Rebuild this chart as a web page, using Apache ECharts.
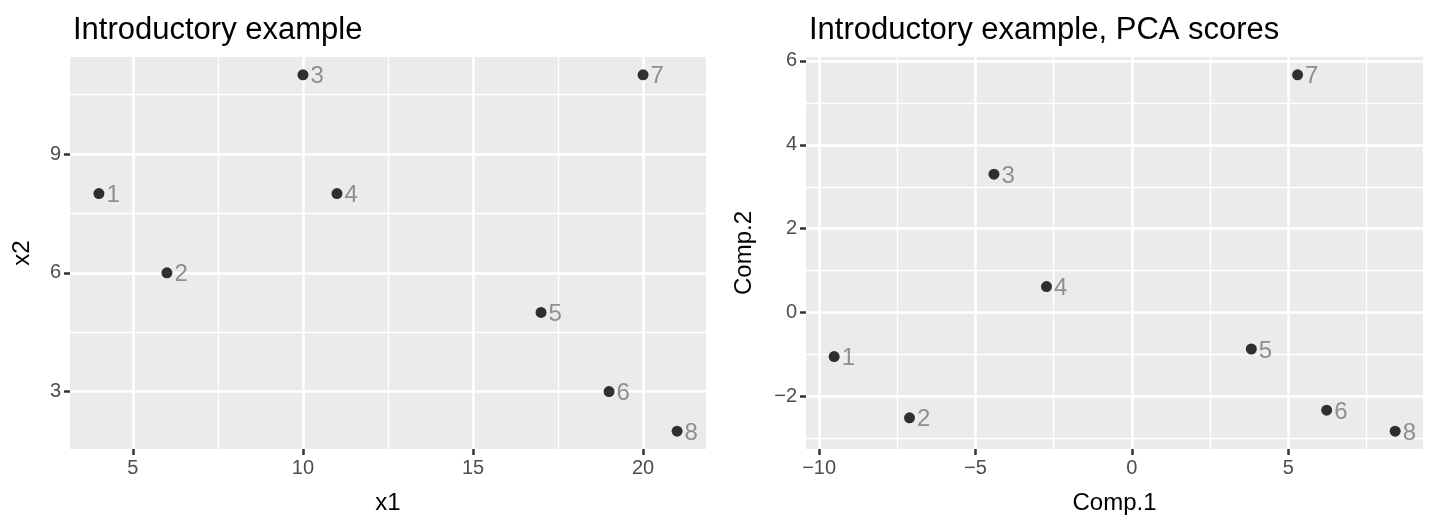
<!DOCTYPE html>
<html>
<head>
<meta charset="utf-8">
<script src="https://cdn.jsdelivr.net/npm/echarts@6/dist/echarts.min.js"></script>
<style>
html,body{margin:0;padding:0;background:#fff;}
#chart{width:1429px;height:520px;}
</style>
</head>
<body>
<div id="chart"></div>
<script>
// ---- data ----
var ids = ['1','2','3','4','5','6','7','8'];
var x1 = [4, 6, 10, 11, 17, 19, 20, 21];
var x2 = [8, 6, 11, 8, 5, 3, 11, 2];
var comp1 = [-9.52, -7.11, -4.41, -2.73, 3.82, 6.23, 5.30, 8.42];
var comp2 = [-1.05, -2.51, 3.30, 0.62, -0.87, -2.33, 5.67, -2.83];

// ---- axis limits & ticks ----
var leftXRange = [3.15, 21.85];
var leftYRange = [1.55, 11.45];
var rightXRange = [-10.42, 9.31];
var rightYRange = [-3.255, 6.095];

var leftXTicks = [5, 10, 15, 20];
var leftXMinor = [7.5, 12.5, 17.5];
var leftYTicks = [3, 6, 9];
var leftYMinor = [4.5, 7.5, 10.5];
var rightXTicks = [-10, -5, 0, 5];
var rightXMinor = [-7.5, -2.5, 2.5, 7.5];
var rightYTicks = [-2, 0, 2, 4, 6];
var rightYMinor = [-3, -1, 1, 3, 5];

var FONT = 'Liberation Sans, Arial, Helvetica, sans-serif';

function pts(xs, ys) {
  return xs.map(function (v, i) { return { value: [v, ys[i]], name: ids[i] }; });
}
function gridLines(xMaj, xMin, yMaj, yMin) {
  var d = [];
  xMin.forEach(function (v) { d.push({ xAxis: v, lineStyle: { color: '#fff', width: 1.3, type: 'solid' } }); });
  yMin.forEach(function (v) { d.push({ yAxis: v, lineStyle: { color: '#fff', width: 1.3, type: 'solid' } }); });
  xMaj.forEach(function (v) { d.push({ xAxis: v, lineStyle: { color: '#fff', width: 2.6, type: 'solid' } }); });
  yMaj.forEach(function (v) { d.push({ yAxis: v, lineStyle: { color: '#fff', width: 2.6, type: 'solid' } }); });
  return d;
}
function fmt(v) { return String(v).replace('-', '\u2212'); }

function xAxis(idx, range, ticks, name) {
  return {
    type: 'value', gridIndex: idx, min: range[0], max: range[1],
    name: name, nameLocation: 'middle', nameGap: 42,
    nameTextStyle: { color: '#000', fontSize: 24, fontFamily: FONT },
    axisLine: { show: false, onZero: false },
    axisTick: { show: true, length: 6, customValues: ticks, lineStyle: { color: '#333', width: 2.5 } },
    axisLabel: { customValues: ticks, color: '#4D4D4D', fontSize: 20, fontFamily: FONT, margin: 9, formatter: fmt },
    splitLine: { show: false }
  };
}
function yAxis(idx, range, ticks, name, gap) {
  return {
    type: 'value', gridIndex: idx, min: range[0], max: range[1],
    name: name, nameLocation: 'middle', nameGap: gap, nameRotate: 90,
    nameTextStyle: { color: '#000', fontSize: 24, fontFamily: FONT },
    axisLine: { show: false, onZero: false },
    axisTick: { show: true, length: 6, customValues: ticks, lineStyle: { color: '#333', width: 2.5 } },
    axisLabel: { customValues: ticks, color: '#4D4D4D', fontSize: 20, fontFamily: FONT, margin: 9, formatter: fmt },
    splitLine: { show: false }
  };
}
function scatter(idx, data) {
  return {
    type: 'scatter', xAxisIndex: idx, yAxisIndex: idx, data: data, z: 10,
    symbol: 'circle', symbolSize: 11, itemStyle: { color: '#000' },
    label: { show: true, position: 'right', distance: 2, formatter: '{b}', color: '#777777',
             fontSize: 24, fontFamily: FONT, offset: [0, 2] },
    emphasis: { disabled: true }, silent: true
  };
}
function helper(idx, lines) {
  return {
    type: 'scatter', xAxisIndex: idx, yAxisIndex: idx, data: [], z: 1, silent: true,
    markLine: { silent: true, z: 1, symbol: ['none', 'none'], label: { show: false }, animation: false, data: lines }
  };
}

var chart = echarts.init(document.getElementById('chart'), null, { renderer: 'canvas' });
chart.setOption({
  animation: false,
  backgroundColor: '#fff',
  title: [
    { text: 'Introductory example', left: 68, top: 10, textStyle: { fontSize: 31, fontWeight: 'normal', color: '#000', fontFamily: FONT } },
    { text: 'Introductory example, PCA scores', left: 804, top: 10, textStyle: { fontSize: 31, fontWeight: 'normal', color: '#000', fontFamily: FONT } }
  ],
  grid: [
    { left: 70, top: 57, width: 636, height: 398, show: true, backgroundColor: '#EBEBEB', borderWidth: 0 },
    { left: 806, top: 57, width: 617, height: 398, show: true, backgroundColor: '#EBEBEB', borderWidth: 0 }
  ],
  xAxis: [ xAxis(0, leftXRange, leftXTicks, 'x1'), xAxis(1, rightXRange, rightXTicks, 'Comp.1') ],
  yAxis: [ yAxis(0, leftYRange, leftYTicks, 'x2', 36), yAxis(1, rightYRange, rightYTicks, 'Comp.2', 50) ],
  series: [
    helper(0, gridLines(leftXTicks, leftXMinor, leftYTicks, leftYMinor)),
    scatter(0, pts(x1, x2)),
    helper(1, gridLines(rightXTicks, rightXMinor, rightYTicks, rightYMinor)),
    scatter(1, pts(comp1, comp2))
  ]
});
</script>
</body>
</html>
